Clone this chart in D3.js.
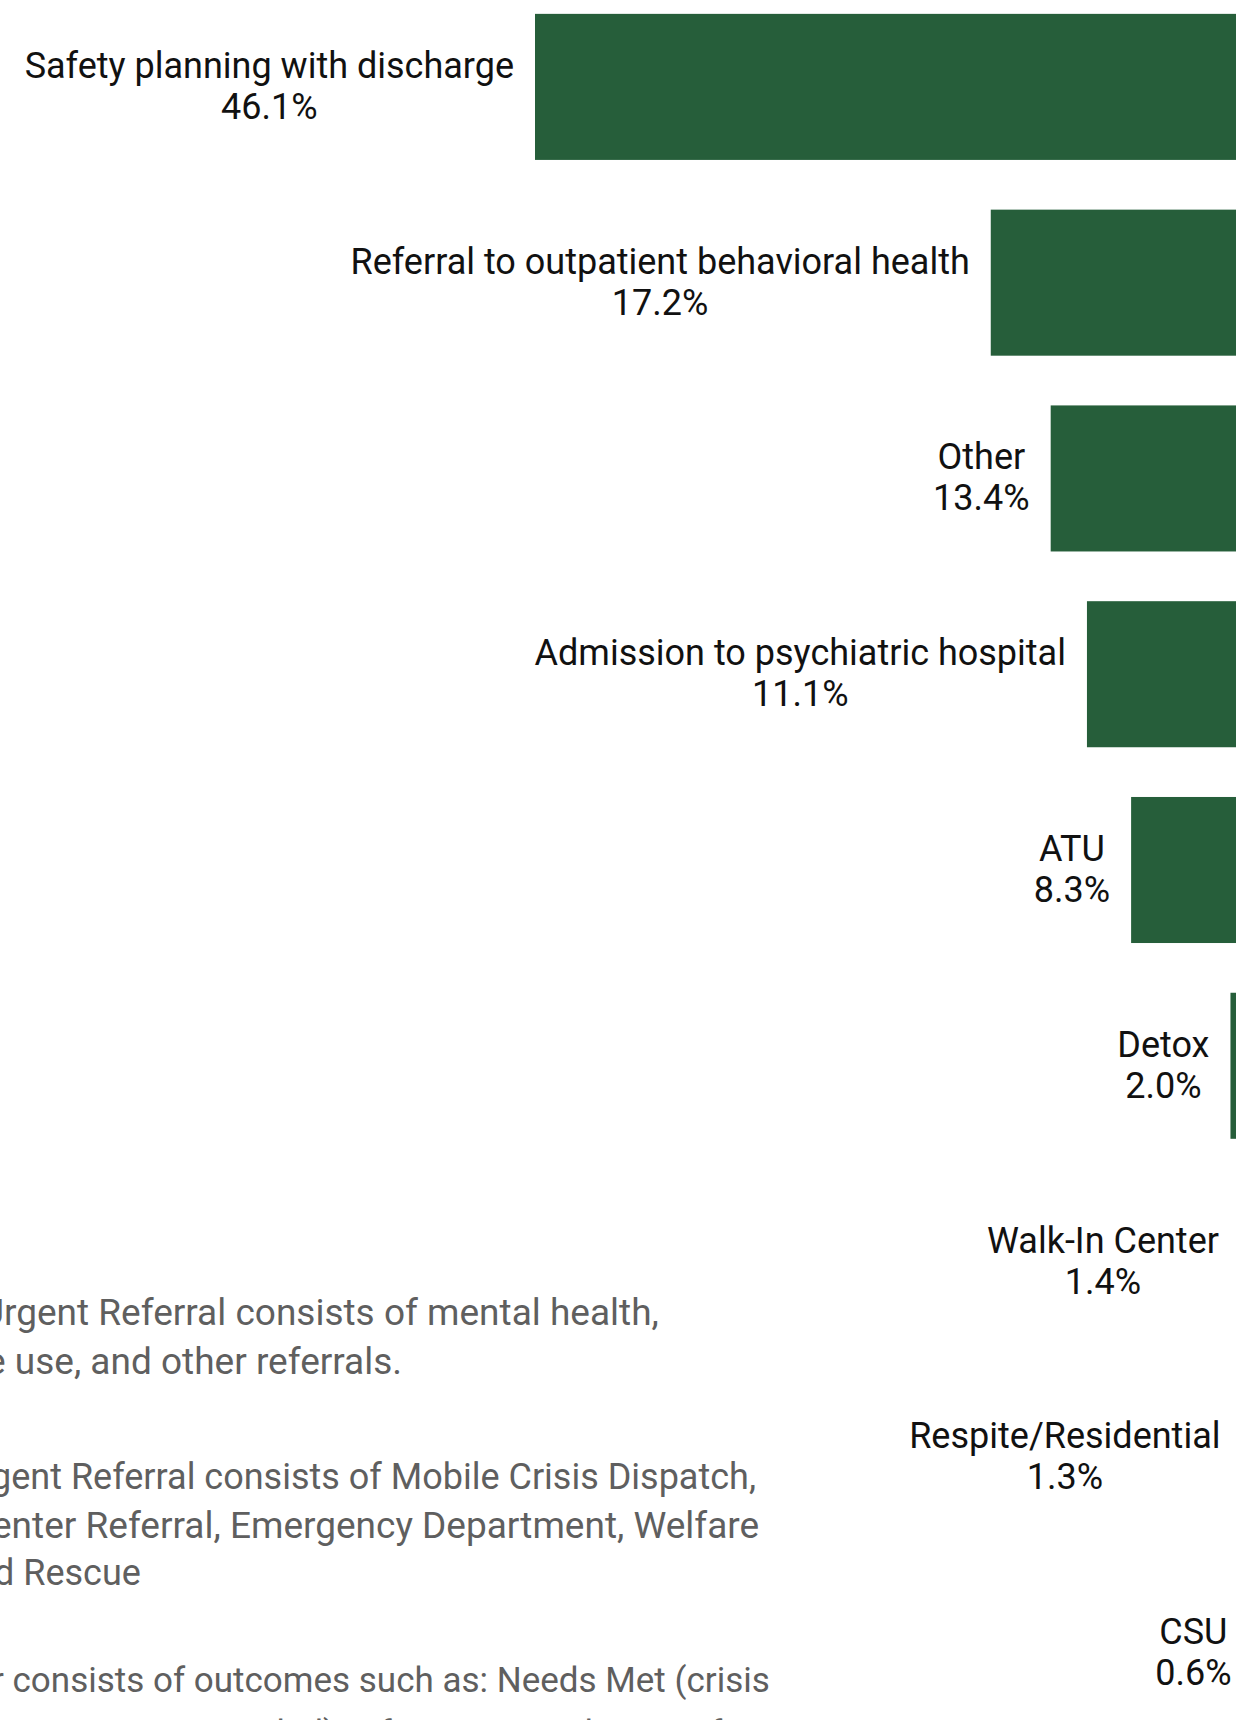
<!DOCTYPE html>
<html>
<head>
<meta charset="utf-8">
<script src="https://cdn.jsdelivr.net/npm/d3@7"></script>
<style>
  body { margin: 0; background: #fff; }
  svg { display: block; font-family: Roboto, "Noto Sans", sans-serif; }
</style>
</head>
<body>
<div id="chart"></div>
<script>
// disposition outcomes, share of calls (%)
const categories = [
  "Safety planning with discharge",
  "Referral to outpatient behavioral health",
  "Other",
  "Admission to psychiatric hospital",
  "ATU",
  "Detox",
  "Walk-In Center",
  "Respite/Residential",
  "CSU"
];
const shares = [46.1, 17.2, 13.4, 11.1, 8.3, 2.0, 1.4, 1.3, 0.6];

// footnote text block (left side is cut off in the picture)
const footnoteLines = [
  "Urgent Referral consists of mental health,",
  "e use, and other referrals.",
  "gent Referral consists of Mobile Crisis Dispatch,",
  "enter Referral, Emergency Department, Welfare",
  "d Rescue",
  "r consists of outcomes such as: Needs Met (crisis",
  "intervention provided), Information Only, Transfer"
];

const data = categories.map((name, i) => ({ name, share: shares[i] }));

const width = 1236;
const height = 1720;
const zeroX = 1262;      // bars grow leftwards from just past the right edge
const pxPerPct = 15.77;
const barColor = "#265e3a";

// footnote layout: [x, baseline, font size]
const footnotePos = [
  [-20, 1325, 37], [-14, 1374, 37],
  [-9, 1489, 36], [-8, 1538, 37], [-6, 1585, 36],
  [-8, 1692, 35], [-4, 1745, 35]
];

const svg = d3.select("#chart")
  .append("svg")
  .attr("width", width)
  .attr("height", height);

svg.append("rect").attr("width", width).attr("height", height).attr("fill", "#fff");

const x = d3.scaleLinear()
  .domain([0, 50])
  .range([zeroX, zeroX - 50 * pxPerPct]);

const y = d3.scaleBand()
  .domain(categories)
  .range([-11, 1751])
  .paddingInner(0.254)
  .paddingOuter(0.127);

svg.append("g")
  .selectAll("rect")
  .data(data)
  .join("rect")
  .attr("x", d => x(d.share))
  .attr("y", d => y(d.name))
  .attr("width", d => x(0) - x(d.share))
  .attr("height", y.bandwidth())
  .attr("fill", barColor);

const fmt = d3.format(".1f");

svg.append("g")
  .selectAll("g")
  .data(data)
  .join("g")
  .each(function (d) {
    const g = d3.select(this);
    const cy = y(d.name) + y.bandwidth() / 2;
    const t1 = g.append("text").attr("y", cy - 9).text(d.name);
    const t2 = g.append("text").attr("y", cy + 32).text(fmt(d.share) + "%");
    g.selectAll("text")
      .attr("font-size", 36)
      .attr("fill", "#111");
    const w = Math.max(t1.node().getComputedTextLength(), t2.node().getComputedTextLength());
    g.selectAll("text")
      .attr("text-anchor", "middle")
      .attr("x", x(d.share) - 21 - w / 2);
  });

svg.append("g")
  .selectAll("text")
  .data(footnoteLines)
  .join("text")
  .attr("x", (d, i) => footnotePos[i][0])
  .attr("y", (d, i) => footnotePos[i][1])
  .attr("font-size", (d, i) => footnotePos[i][2])
  .attr("fill", "#5f5f5f")
  .text(d => d);
</script>
</body>
</html>
